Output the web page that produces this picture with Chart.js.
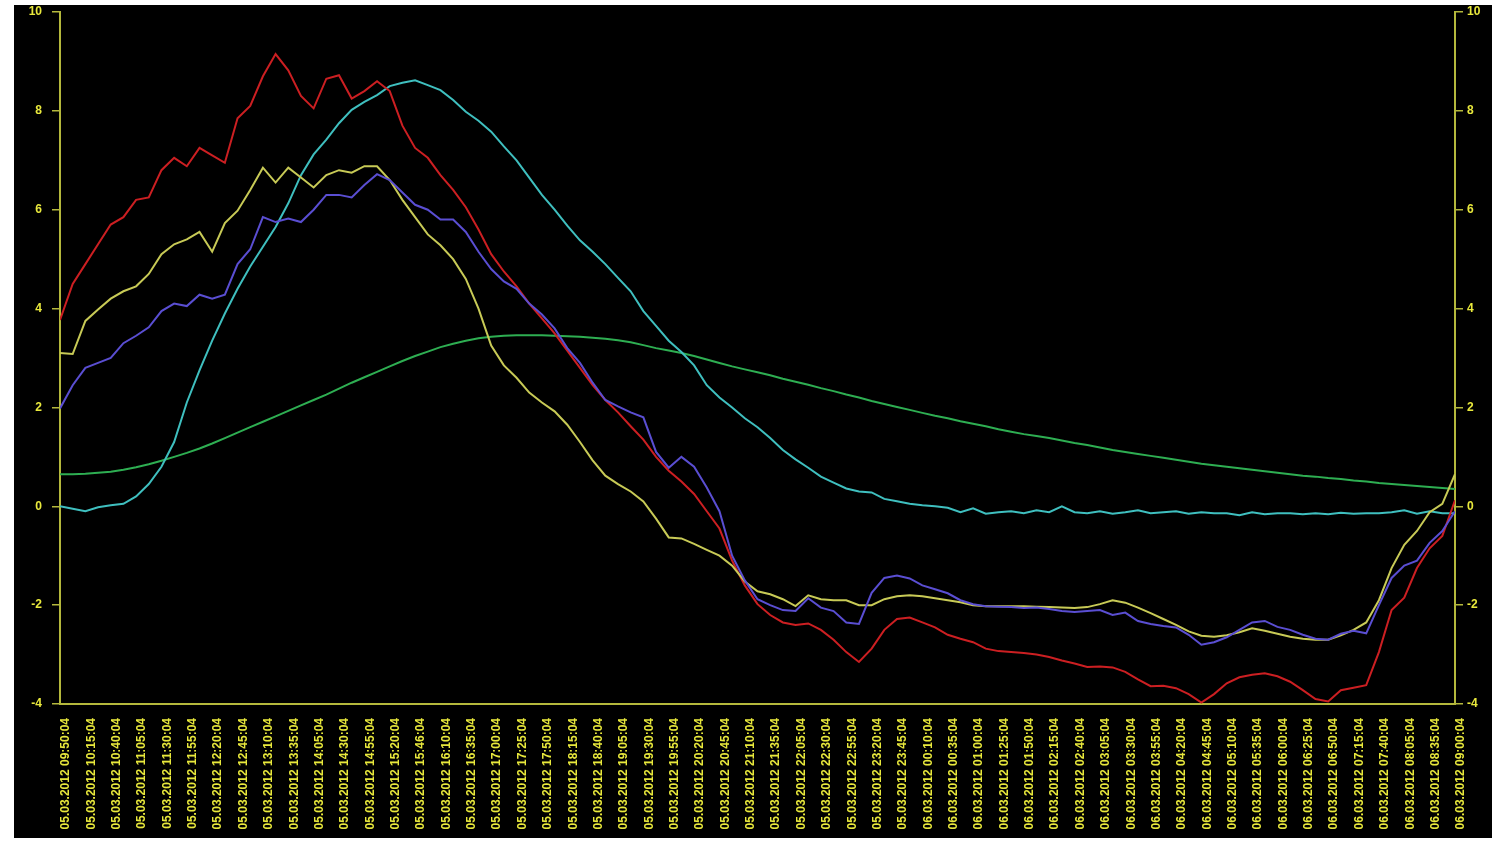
<!DOCTYPE html>
<html>
<head>
<meta charset="utf-8">
<script src="https://cdn.jsdelivr.net/npm/chart.js@4/dist/chart.umd.min.js"></script>
<style>
  html, body { margin: 0; padding: 0; background: #ffffff; }
  #frame {
    position: absolute;
    left: 14px; top: 5px;
    width: 1478px; height: 833px;
    background: #000000;
  }
</style>
</head>
<body>
<div id="frame"><canvas id="chart"></canvas></div>
<script>
// Time stamps shown under the x axis (one every 25 minutes or so)
const tickLabels = [
  "05.03.2012 09:50:04", "05.03.2012 10:15:04", "05.03.2012 10:40:04", "05.03.2012 11:05:04",
  "05.03.2012 11:30:04", "05.03.2012 11:55:04", "05.03.2012 12:20:04", "05.03.2012 12:45:04",
  "05.03.2012 13:10:04", "05.03.2012 13:35:04", "05.03.2012 14:05:04", "05.03.2012 14:30:04",
  "05.03.2012 14:55:04", "05.03.2012 15:20:04", "05.03.2012 15:46:04", "05.03.2012 16:10:04",
  "05.03.2012 16:35:04", "05.03.2012 17:00:04", "05.03.2012 17:25:04", "05.03.2012 17:50:04",
  "05.03.2012 18:15:04", "05.03.2012 18:40:04", "05.03.2012 19:05:04", "05.03.2012 19:30:04",
  "05.03.2012 19:55:04", "05.03.2012 20:20:04", "05.03.2012 20:45:04", "05.03.2012 21:10:04",
  "05.03.2012 21:35:04", "05.03.2012 22:05:04", "05.03.2012 22:30:04", "05.03.2012 22:55:04",
  "05.03.2012 23:20:04", "05.03.2012 23:45:04", "06.03.2012 00:10:04", "06.03.2012 00:35:04",
  "06.03.2012 01:00:04", "06.03.2012 01:25:04", "06.03.2012 01:50:04", "06.03.2012 02:15:04",
  "06.03.2012 02:40:04", "06.03.2012 03:05:04", "06.03.2012 03:30:04", "06.03.2012 03:55:04",
  "06.03.2012 04:20:04", "06.03.2012 04:45:04", "06.03.2012 05:10:04", "06.03.2012 05:35:04",
  "06.03.2012 06:00:04", "06.03.2012 06:25:04", "06.03.2012 06:50:04", "06.03.2012 07:15:04",
  "06.03.2012 07:40:04", "06.03.2012 08:05:04", "06.03.2012 08:35:04", "06.03.2012 09:00:04"
];

// y axis ticks (both sides)
const yTicks = [-4, -2, 0, 2, 4, 6, 8, 10];

// Readings, two per label step (first value sits on the first label)
const redVals = [
  3.77, 4.5, 4.9, 5.3, 5.7, 5.85, 6.2, 6.25, 6.8, 7.05, 6.88, 7.25, 7.1, 6.95, 7.85, 8.1,
  8.7, 9.15, 8.82, 8.3, 8.05, 8.65, 8.72, 8.25, 8.4, 8.6, 8.4, 7.7, 7.25, 7.05, 6.7, 6.4,
  6.05, 5.6, 5.1, 4.75, 4.45, 4.1, 3.8, 3.5, 3.15, 2.8, 2.45, 2.15, 1.9, 1.62, 1.35, 1.0,
  0.72, 0.5, 0.25, -0.1, -0.45, -1.1, -1.6, -1.98, -2.2, -2.35, -2.4, -2.37, -2.5, -2.7,
  -2.95, -3.15, -2.88, -2.5, -2.28, -2.25, -2.35, -2.45, -2.6, -2.68, -2.75, -2.88, -2.93,
  -2.95, -2.97, -3.0, -3.05, -3.12, -3.18, -3.25, -3.24, -3.26, -3.35, -3.5, -3.64, -3.63,
  -3.68, -3.8, -3.97, -3.8, -3.58, -3.46, -3.41, -3.38, -3.44, -3.55, -3.72, -3.9, -3.95,
  -3.72, -3.67, -3.62, -2.95, -2.1, -1.85, -1.25, -0.85, -0.6, 0.12
];
const yellowVals = [
  3.1, 3.08, 3.75, 3.98, 4.2, 4.35, 4.45, 4.7, 5.1, 5.3, 5.4, 5.55, 5.15, 5.73, 5.98, 6.4,
  6.85, 6.55, 6.85, 6.65, 6.45, 6.7, 6.8, 6.75, 6.88, 6.88, 6.6, 6.2, 5.85, 5.5, 5.28, 5.0,
  4.6, 4.0, 3.25, 2.85, 2.6, 2.3, 2.1, 1.92, 1.65, 1.3, 0.93, 0.62, 0.45, 0.3, 0.1, -0.25,
  -0.63, -0.65, -0.76, -0.88, -1.0, -1.2, -1.52, -1.72, -1.78, -1.88, -2.02, -1.8, -1.88,
  -1.9, -1.9, -2.0, -2.0, -1.88, -1.82, -1.8, -1.82, -1.86, -1.9, -1.94, -2.0, -2.02, -2.02,
  -2.02, -2.02, -2.03, -2.04, -2.05, -2.06, -2.04, -1.98, -1.9, -1.95, -2.05, -2.16, -2.28,
  -2.4, -2.53, -2.62, -2.64, -2.61, -2.55, -2.47, -2.52, -2.58, -2.64, -2.68, -2.7, -2.7,
  -2.61, -2.5, -2.35, -1.9, -1.25, -0.78, -0.5, -0.12, 0.05, 0.65
];
const blueVals = [
  1.98, 2.45, 2.8, 2.9, 3.0, 3.3, 3.45, 3.62, 3.95, 4.1, 4.05, 4.28, 4.2, 4.28, 4.9, 5.2,
  5.85, 5.75, 5.82, 5.75, 6.0, 6.3, 6.3, 6.25, 6.5, 6.72, 6.6, 6.35, 6.1, 6.0, 5.8, 5.8,
  5.55, 5.15, 4.8, 4.55, 4.4, 4.1, 3.88, 3.6, 3.2, 2.9, 2.5, 2.15, 2.02, 1.9, 1.8, 1.1,
  0.78, 1.0, 0.8, 0.38, -0.1, -1.0, -1.5, -1.88, -2.0, -2.1, -2.12, -1.86, -2.05, -2.12,
  -2.35, -2.38, -1.75, -1.45, -1.4, -1.46, -1.6, -1.68, -1.76, -1.9, -1.98, -2.02, -2.03,
  -2.04, -2.06, -2.05, -2.08, -2.12, -2.14, -2.12, -2.1, -2.2, -2.15, -2.32, -2.38, -2.42,
  -2.45, -2.6, -2.8, -2.75, -2.65, -2.5, -2.35, -2.32, -2.44, -2.5, -2.6, -2.68, -2.7,
  -2.58, -2.52, -2.57, -2.0, -1.45, -1.2, -1.1, -0.74, -0.5, -0.1
];
const cyanVals = [
  0.0, -0.05, -0.1, -0.02, 0.02, 0.05, 0.2, 0.45, 0.8, 1.3, 2.1, 2.75, 3.35, 3.9, 4.4, 4.85,
  5.25, 5.65, 6.13, 6.7, 7.12, 7.42, 7.75, 8.02, 8.18, 8.32, 8.5, 8.57, 8.62, 8.52, 8.42,
  8.22, 7.98, 7.8, 7.58, 7.28, 7.0, 6.65, 6.3, 6.0, 5.68, 5.38, 5.15, 4.9, 4.62, 4.35, 3.95,
  3.65, 3.35, 3.12, 2.85, 2.45, 2.2, 2.0, 1.78, 1.6, 1.38, 1.14, 0.95, 0.78, 0.6, 0.48, 0.36,
  0.3, 0.28, 0.15, 0.1, 0.05, 0.02, 0.0, -0.03, -0.12, -0.04, -0.15, -0.12, -0.1, -0.14,
  -0.08, -0.12, 0.0, -0.12, -0.14, -0.1, -0.15, -0.12, -0.08, -0.14, -0.12, -0.1, -0.15,
  -0.12, -0.14, -0.14, -0.18, -0.12, -0.16, -0.14, -0.14, -0.16, -0.14, -0.16, -0.13, -0.15,
  -0.14, -0.14, -0.12, -0.08, -0.15, -0.1, -0.14, -0.14
];
const greenVals = [
  0.65, 0.65, 0.66, 0.68, 0.7, 0.74, 0.79, 0.85, 0.92, 1.0, 1.08, 1.17, 1.27, 1.38, 1.49,
  1.6, 1.71, 1.82, 1.93, 2.04, 2.15, 2.26, 2.38, 2.5, 2.61, 2.72, 2.83, 2.94, 3.04, 3.13,
  3.22, 3.29, 3.35, 3.4, 3.43, 3.45, 3.46, 3.46, 3.46, 3.45, 3.44, 3.43, 3.41, 3.39, 3.36,
  3.32, 3.26, 3.2, 3.15, 3.1, 3.04, 2.97, 2.9, 2.83, 2.77, 2.71, 2.65, 2.58, 2.52, 2.46,
  2.39, 2.33, 2.26, 2.2, 2.13, 2.07, 2.01, 1.95, 1.89, 1.83, 1.78, 1.72, 1.67, 1.62, 1.56,
  1.51, 1.46, 1.42, 1.38, 1.33, 1.28, 1.24, 1.19, 1.14, 1.1, 1.06, 1.02, 0.98, 0.94, 0.9,
  0.86, 0.83, 0.8, 0.77, 0.74, 0.71, 0.68, 0.65, 0.62, 0.6, 0.57, 0.55, 0.52, 0.5, 0.47,
  0.45, 0.43, 0.41, 0.39, 0.37, 0.35
];

const axisColor = "#b4b83c";
const labelColor = "#e8e83c";

// two readings per label step
const toPoints = (vals) => vals.map((v, i) => ({ x: i / 2, y: v }));

const line = (vals, color) => ({
  data: toPoints(vals),
  borderColor: color,
  borderWidth: 2,
  pointRadius: 0,
  tension: 0,
  fill: false,
});

const yScale = (position, width, padding) => ({
  type: "linear",
  position,
  min: -4,
  max: 10,
  afterBuildTicks: (s) => { s.ticks = yTicks.map((v) => ({ value: v })); },
  afterFit: (s) => {
    s.width = width;
    // keep the plot top close to the frame edge
    s.paddingTop = 7;
    s.paddingBottom = 0;
  },
  grid: { drawOnChartArea: false, color: axisColor, tickLength: 8, lineWidth: 1.5 },
  border: { color: axisColor, width: 2 },
  ticks: {
    color: labelColor,
    padding,
    font: { family: "Liberation Sans, Arial", size: 12, weight: "bold" },
  },
});

new Chart(document.getElementById("chart"), {
  type: "line",
  data: {
    datasets: [
      line(blueVals, "#5a4ed2"),
      line(yellowVals, "#c8ca56"),
      line(redVals, "#cc1f22"),
      line(cyanVals, "#3fbfbf"),
      line(greenVals, "#2eae52"),
    ],
  },
  options: {
    responsive: true,
    maintainAspectRatio: false,
    animation: false,
    layout: { padding: 0 },
    plugins: { legend: { display: false }, tooltip: { enabled: false } },
    scales: {
      x: {
        type: "linear",
        min: 0,
        max: tickLabels.length - 1,
        afterBuildTicks: (s) => { s.ticks = tickLabels.map((_, i) => ({ value: i })); },
        afterFit: (s) => {
          s.height = 134;
          s.paddingLeft = 0;
          s.paddingRight = 0;
        },
        grid: { display: false },
        border: { color: axisColor, width: 2 },
        ticks: {
          autoSkip: false,
          minRotation: 90,
          maxRotation: 90,
          labelOffset: 6,
          padding: 6,
          color: labelColor,
          font: { family: "Liberation Sans, Arial", size: 12, weight: "bold" },
          callback: (v) => tickLabels[v],
        },
      },
      y: yScale("left", 46, 10),
      y2: yScale("right", 37, 4),
    },
  },
});
</script>
</body>
</html>
